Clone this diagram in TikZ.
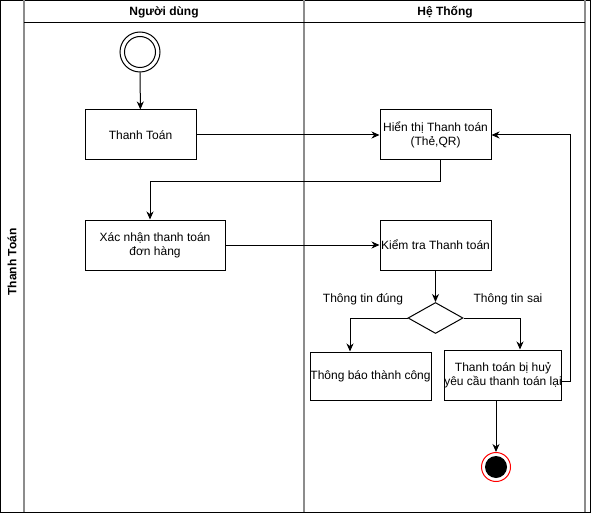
\documentclass[tikz,border=0pt]{standalone}
\usepackage{fontspec}
\setmainfont{Liberation Sans}
\usetikzlibrary{arrows.meta,shapes.geometric}
\begin{document}
\begin{tikzpicture}[x=1pt,y=-1pt,
  every node/.style={font=\fontsize{12}{14}\selectfont},
  box/.style={draw,line width=1pt,minimum width=#1,minimum height=50pt,inner sep=0pt,align=center},
  flow/.style={draw,line width=1pt,-{Stealth[length=8pt,width=7pt,inset=2.5pt]}},
  lane/.style={draw=black!45,line width=2pt},
  hdr/.style={font=\bfseries\fontsize{12}{14}\selectfont}]
\useasboundingbox (0,0) rectangle (591,513);
% frame
\draw[line width=1pt] (0.5,0.5) rectangle (590,512);
\draw[lane] (24,0.5) -- (24,512);
\draw[lane] (304,0.5) -- (304,512);
\draw[lane] (585,0.5) -- (585,512);
\draw[line width=1pt] (24,23) -- (585,23);
\node[hdr] (h1) at (164,12) {Người dùng};
\node[hdr] (h2) at (445,12) {Hệ Thống};
\node[hdr,rotate=90] (pool) at (12,262) {Thanh Toán};
% nodes
\node[draw,circle,line width=1pt,minimum size=40pt,inner sep=0pt] (start) at (140,52) {};
\node[draw,circle,line width=1pt,minimum size=31pt,inner sep=0pt] at (140,52) {};
\node[box=111pt] (tt) at (140.5,135) {Thanh Toán};
\node[box=140pt] (xn) at (155,245) {Xác nhận thanh toán\\đơn hàng};
\node[box=111pt] (ht) at (435.5,135) {Hiển thị Thanh toán\\(Thẻ,QR)};
\node[box=111pt] (kt) at (435.5,245) {Kiểm tra Thanh toán};
\node[draw,diamond,aspect=1.75,line width=1pt,minimum width=55pt,minimum height=31pt,inner sep=0pt] (dec) at (435.5,318) {};
\node[box=121pt,minimum height=48pt] (tb) at (370.5,376) {Thông báo thành công};
\node[box=116pt] (huy) at (503,375) {Thanh toán bị huỷ\\yêu cầu thanh toán lại};
\node[draw=red,circle,line width=1pt,minimum size=29pt,inner sep=0pt] (end) at (496,467) {};
\node[fill=black,circle,minimum size=22pt,inner sep=0pt] at (496,467) {};
\node (l1) at (363,299) {Thông tin đúng};
\node (l2) at (508,299) {Thông tin sai};
% connectors
\draw[flow] (start) -- (tt);
\draw[flow] (tt) -- (ht);
\draw[flow] (ht.south -| 440,0) |- (150,182) -- (xn.north -| 150,0);
\draw[flow] (xn) -- (kt);
\draw[flow] (kt.south) -- (dec.north);
\draw[flow] (dec.west) -| (tb.north -| 350,0);
\draw[flow] (dec.east) -| (huy.north -| 520,0);
\draw[flow] (huy.east |- 0,381) -| (570,135) -- (ht.east);
\draw[flow] (huy.south -| 496,0) -- (end);
\end{tikzpicture}
\end{document}
